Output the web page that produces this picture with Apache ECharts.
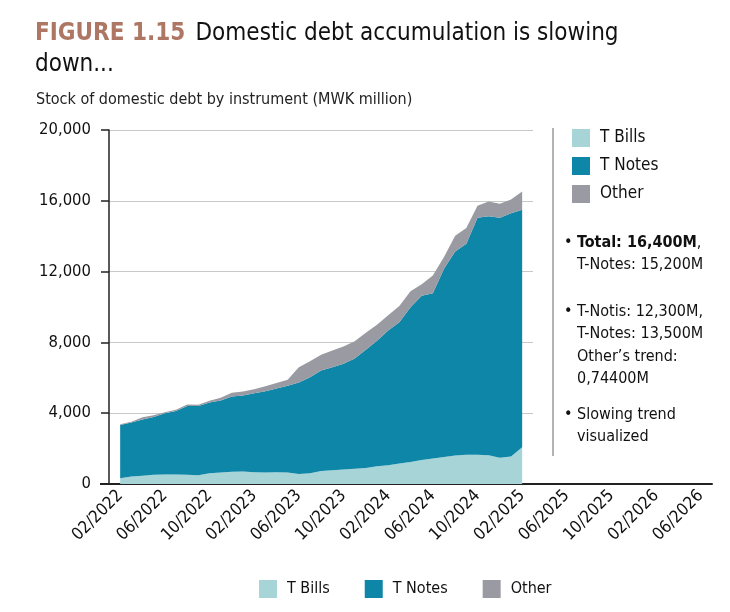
<!DOCTYPE html>
<html lang="en">
<head>
  <meta charset="UTF-8">
  <title>Domestic debt</title>
  <style>
    html, body { margin: 0; padding: 0; background: #fff; }
    #main { width: 730px; height: 612px; }
  </style>
</head>
<body>
<div id="main"></div>
<script src="https://cdn.jsdelivr.net/npm/echarts@6/dist/echarts.min.js"></script>
<script>
  // monthly stock, 02/2022 .. 02/2025 (MWK million)
  var tBills = [330, 420, 460, 520, 540, 540, 520, 500, 610, 650, 690, 710, 670, 650, 670, 650, 570, 610, 740,
    780, 820, 860, 910, 1000, 1060, 1160, 1250, 1360, 1440, 1520, 1610, 1650, 1650, 1630, 1480, 1550, 2080];
  var tNotes = [3010, 3050, 3180, 3260, 3460, 3580, 3880, 3900, 3990, 4070, 4260, 4290, 4460, 4590, 4730, 4900,
    5160, 5420, 5670, 5820, 5970, 6230, 6670, 7100, 7610, 7980, 8740, 9280, 9340, 10640, 11520, 11920, 13390,
    13500, 13560, 13750, 13410];
  var other = [30, 40, 130, 100, 60, 80, 90, 80, 110, 150, 210, 230, 230, 280, 300, 340, 870, 910, 890, 940,
    980, 980, 960, 900, 870, 920, 900, 650, 1000, 660, 900, 900, 680, 830, 790, 770, 1040];

  var seriesNames = ['T Bills', 'T Notes', 'Other'];
  var colors = ['#a6d4d7', '#0e86a7', '#9a9ba2'];
  var notes = [
    ['{b|Total: 16,400M},', 'T-Notes: 15,200M'],
    ['T-Notis: 12,300M,', 'T-Notes: 13,500M', 'Other\u2019s trend:', '0,74400M'],
    ['Slowing trend', 'visualized']
  ];

  // axis runs 01/2022 .. 07/2026, one category per month
  var months = [];
  for (var i = 0; i < 55; i++) {
    var d = new Date(2022, i, 1);
    months.push(String(d.getMonth() + 1).padStart(2, '0') + '/' + d.getFullYear());
  }
  var firstMonth = '02/2022';

  var font = '"DejaVu Sans Condensed", "Liberation Sans Narrow", Roboto, sans-serif';
  var myChart = echarts.init(document.getElementById('main'));

  function toPairs(arr) {
    var start = months.indexOf(firstMonth);
    return arr.map(function (v, k) { return [months[start + k], v]; });
  }

  var series = [tBills, tNotes, other].map(function (arr, k) {
    return {
      name: seriesNames[k],
      type: 'line',
      stack: 'debt',
      xAxisIndex: 0,
      yAxisIndex: 0,
      symbol: 'none',
      lineStyle: { width: 0 },
      itemStyle: { color: colors[k] },
      areaStyle: { color: colors[k], opacity: 1 },
      data: toPairs(arr)
    };
  });

  // note texts on the right
  var graphics = [{
    type: 'line',
    shape: { x1: 553, y1: 128, x2: 553, y2: 456 },
    style: { stroke: '#9a9a9a', lineWidth: 1.5 }
  }, {
    type: 'line',
    shape: { x1: 100, y1: 484, x2: 109, y2: 484 },
    style: { stroke: '#222', lineWidth: 2 }
  }];
  var noteTops = [243, 312, 415];
  notes.forEach(function (lines, n) {
    graphics.push({
      type: 'text', x: 564, y: noteTops[n],
      style: { text: '\u2022', font: '16px ' + font, fill: '#111', verticalAlign: 'middle' }
    });
    lines.forEach(function (line, j) {
      graphics.push({
        type: 'text', x: 577, y: noteTops[n] + j * 22.3,
        style: {
          text: line, font: '16px ' + font, fill: '#111', verticalAlign: 'middle',
          rich: { b: { fontWeight: 'bold', fontSize: 16, fontFamily: font, fill: '#111' } }
        }
      });
    });
  });

  var option = {
    animation: false,
    textStyle: { fontFamily: font },
    title: [{
      left: 35, top: 18, padding: 0,
      text: '{a|FIGURE 1.15}  {b|Domestic debt accumulation is slowing}\n{b|down...}',
      textStyle: {
        fontWeight: 'normal',
        rich: {
          a: { fontSize: 24, fontWeight: 'bold', color: '#ad7763', fontFamily: font, lineHeight: 31 },
          b: { fontSize: 24, fontWeight: 'normal', color: '#111', fontFamily: font, lineHeight: 31 }
        }
      }
    }, {
      left: 36, top: 92, padding: 0,
      text: 'Stock of domestic debt by instrument (MWK million)',
      textStyle: { fontSize: 16, fontWeight: 'normal', color: '#222', fontFamily: font }
    }],
    legend: [{
      orient: 'vertical',
      left: 572, top: 129, padding: 0,
      itemWidth: 18, itemHeight: 18, itemGap: 10,
      icon: 'rect',
      data: seriesNames,
      selectedMode: false,
      textStyle: { fontSize: 17, color: '#111', padding: [0, 0, 0, 5] }
    }, {
      orient: 'horizontal',
      left: 259, top: 580, padding: 0,
      itemWidth: 18, itemHeight: 18, itemGap: 35,
      icon: 'rect',
      data: seriesNames,
      selectedMode: false,
      textStyle: { fontSize: 16, color: '#111', padding: [0, 0, 0, 5] }
    }],
    grid: [
      { left: 109, right: 18, top: 130, bottom: 128 },
      { left: 109, right: 197, top: 130, bottom: 128 }
    ],
    xAxis: [{
      type: 'category',
      gridIndex: 0,
      data: months,
      boundaryGap: false,
      axisLine: { lineStyle: { color: '#222', width: 2 } },
      axisTick: { show: false },
      axisLabel: {
        rotate: 45,
        fontSize: 17,
        color: '#111',
        margin: 9,
        interval: function (idx) { return idx % 4 === 1; }
      },
      splitLine: { show: false }
    }, {
      type: 'value',
      gridIndex: 1,
      show: false
    }],
    yAxis: [{
      type: 'value',
      gridIndex: 0,
      min: 0, max: 20000, interval: 4000,
      axisLine: { show: true, lineStyle: { color: '#222', width: 1.5 } },
      axisTick: { show: true, inside: false, length: 8, lineStyle: { color: '#222', width: 1.5 } },
      axisLabel: {
        fontSize: 16.5, color: '#111', margin: 18,
        formatter: function (v) { return v.toLocaleString('en-US'); }
      },
      splitLine: { show: false }
    }, {
      type: 'value',
      gridIndex: 1,
      min: 0, max: 20000, interval: 4000,
      axisLine: { show: false },
      axisTick: { show: false },
      axisLabel: { show: false },
      splitLine: { show: true, lineStyle: { color: '#c8c8c8', width: 1.2 } }
    }],
    series: series,
    graphic: graphics
  };

  myChart.setOption(option);
</script>
</body>
</html>
